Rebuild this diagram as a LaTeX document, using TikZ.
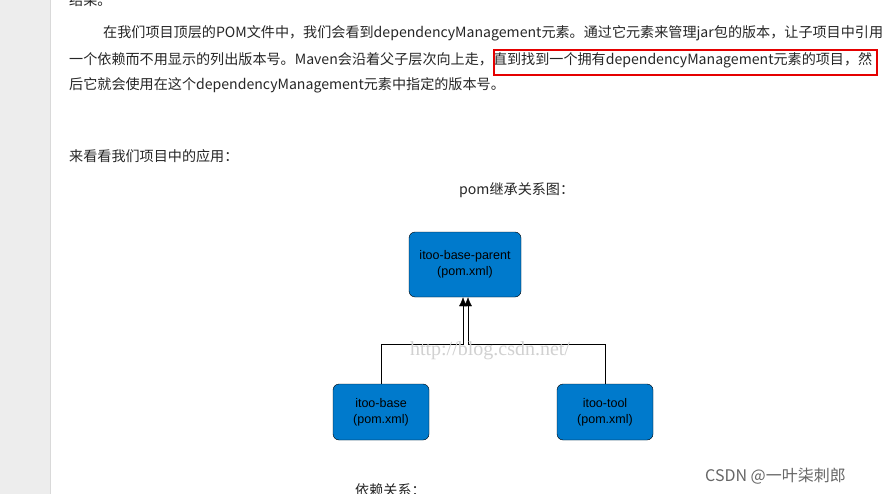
\documentclass[tikz,border=0pt]{standalone}
\usepackage{fontspec}
\usetikzlibrary{arrows.meta}
\setmainfont{Noto Sans CJK SC}
\newfontfamily\boxfont{Liberation Sans}
\newfontfamily\wmfont{Liberation Serif}
\definecolor{box}{RGB}{0,122,204}
\begin{document}
\begin{tikzpicture}[x=1pt,y=-1pt,
  pbox/.style={draw=black,fill=box,rounded corners=6pt,minimum width=#1,minimum height=56pt,align=center,font=\boxfont\fontsize{12.5}{16}\selectfont,inner sep=0pt},
  body/.style={anchor=west,inner sep=0pt,font=\fontsize{14.1}{16}\selectfont,text=black!85}]
\useasboundingbox (0,0) rectangle (890,494);
\fill[white] (0,0) rectangle (890,494);
\fill[black!7] (0,0) rectangle (50,494);
\draw[black!15] (50,0) -- (50,494);
\node[body] (t0) at (69,0) {结果。};
\node[body] (t1) at (103,33) {在我们项目顶层的POM文件中，我们会看到dependencyManagement元素。通过它元素来管理jar包的版本，让子项目中引用};
\node[body] (t2) at (69,60) {一个依赖而不用显示的列出版本号。Maven会沿着父子层次向上走，直到找到一个拥有dependencyManagement元素的项目，然};
\node[body] (t3) at (69,85) {后它就会使用在这个dependencyManagement元素中指定的版本号。};
\draw[red!90!black,line width=2pt] (494,50) rectangle (877,75);
\node[body] (t4) at (69,156) {来看看我们项目中的应用：};
\node[body] (t5) at (459,190) {pom继承关系图：};
\node[pbox=112pt,minimum height=65pt] (p) at (465,264.5) {itoo-base-parent\\(pom.xml)};
\node[pbox=96pt] (b) at (381,412) {itoo-base\\(pom.xml)};
\node[pbox=96pt] (c) at (605,412) {itoo-tool\\(pom.xml)};
\coordinate (j1) at (463,344);
\coordinate (j2) at (468,344);
\draw[-{Latex[length=9pt,width=8pt]}] (b.north) |- (j1) -- (p.south -| j1);
\draw[-{Latex[length=9pt,width=8pt]}] (c.north) |- (j2) -- (p.south -| j2);
\node[text=black!18,font=\wmfont\fontsize{20}{20}\selectfont,inner sep=0pt] (wm) at (490,351) {http://blog.csdn.net/};
\node[body,text=black!60,font=\fontsize{16}{18}\selectfont] (cs) at (705,476) {CSDN @一叶柒刺郎};
\node[body] (t6) at (355,490) {依赖关系：};
\end{tikzpicture}
\end{document}
